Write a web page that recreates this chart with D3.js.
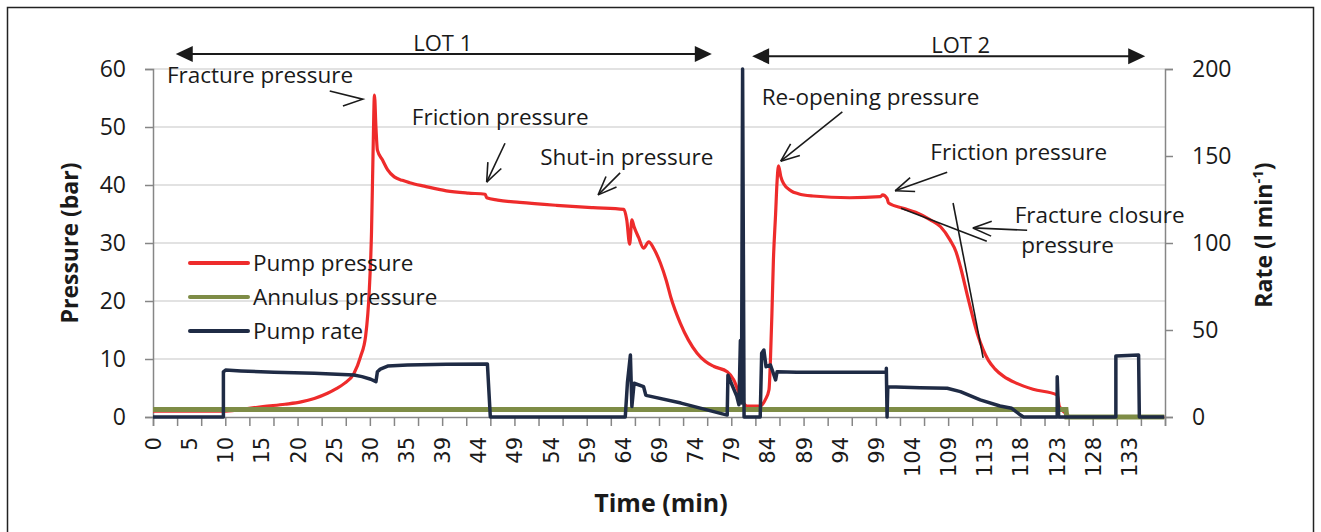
<!DOCTYPE html>
<html>
<head>
<meta charset="utf-8">
<script src="https://cdn.jsdelivr.net/npm/d3@7"></script>
<style>
  body { margin: 0; background: #fff; }
  text { font-family: "Open Sans", sans-serif; fill: #1a1a1a; }
</style>
</head>
<body>
<div id="vis"></div>
<script>
// Frame
const FRAME_WIDTH = 1321;
const FRAME_HEIGHT = 532;
const PLOT = {left: 153, right: 1165, top: 69, bottom: 417};

// Data (time in minutes)
const X_MAX = 138;
const X_TICK_LABELS = ["0","5","10","15","20","25","30","35","39","44","49","54","59","64",
  "69","74","79","84","89","94","99","104","109","113","118","123","128","133"];
const Y_LEFT_TICKS = [0, 10, 20, 30, 40, 50, 60];
const Y_RIGHT_TICKS = [0, 50, 100, 150, 200];

// Pump pressure (bar)
const PUMP_P_TIME = [0,9.6,12,15,18,20.2,22,23.8,25,26.1,27.4,28.3,29.0,29.5,29.8,30.0,30.2,30.4,30.6,31.3,32.0,32.9,34,35,37,40,43,45.3,45.5,47,50,55,60,64.2,64.6,65.0,65.3,65.6,66.2,66.9,67.6,68.3,69.2,70,70.6,71.9,73,74.2,75.3,76.5,78.3,79.2,80.1,80.6,81.0,82.8,83.5,84.0,84.2,84.4,84.6,84.9,85.1,85.3,85.6,86,87,88,90,95,99.2,99.5,100.1,100.3,102.3,104,106,107.4,108.7,109.5,110.1,111.2,112.4,113.2,113.9,114.8,116.0,117.8,120.0,123.3,123.6,124.6,125,137.9];
const PUMP_P_VALS = [1.0,1.0,1.3,1.8,2.2,2.6,3.2,4.1,4.9,5.8,7.5,10.4,14,22,32,45,55.5,50,46,44.3,42.6,41.4,40.8,40.4,39.8,39.0,38.6,38.4,37.8,37.4,37.0,36.5,36.1,35.8,34,29.8,34,32.8,31,29.1,30.2,29,26.5,23.5,20.7,16.2,13.3,11,9.6,8.7,7.8,6.4,3.5,2.3,1.9,1.9,3,4.7,10,17.9,27,35,40.6,43.3,41.5,40.2,39,38.5,38.1,37.8,38,38.3,37.7,36.9,36,35.3,34,32.8,30.5,28.5,25.9,20.2,14.4,11.6,9.8,8.3,7.0,5.8,4.8,3.8,1.8,0.5,0,0];

// Annulus pressure (bar)
const ANNULUS_TIME = [0, 124.5, 124.6, 137.9];
const ANNULUS_VALS = [1.3, 1.3, 0, 0];

// Pump rate (l/min)
const RATE_TIME = [0,9.6,9.6,9.9,12,16.5,22,27.4,28.5,29.7,30.4,30.6,31,32.0,34.7,40,45.6,46.0,64.4,64.7,65.1,65.3,65.6,66.9,67.2,67.4,72,78.3,78.4,79.6,79.9,80.1,80.25,80.4,80.6,82.8,83.0,83.3,83.6,84.2,84.9,85.1,87.8,100.0,100.0,100.1,100.2,104.6,108.3,110.1,112.8,115.5,117.1,118.3,118.7,123.3,123.3,123.5,131.3,131.3,134.4,134.5,137.9];
const RATE_VALS = [0,0,26,27,26.5,25.7,25.2,24.1,23.2,21.7,20.3,26,27.5,29.3,29.9,30.3,30.5,0,0,20,35.6,6,19.4,17.4,12.6,12.3,8,1.1,24,12,7,44,8,200,0,0,36.6,38.5,28.9,29.9,21.3,26,25.7,25.7,28,0,17.4,16.8,16.5,14.6,9.8,6.3,5.0,1.1,0,0,23.2,0,0,35,35.6,0,0];

const SERIES_NAMES = ["Pump pressure", "Annulus pressure", "Pump rate"];
const SERIES_COLORS = ["#ee2b2b", "#7e8c46", "#1f2b45"];

// Annotations (minutes, bar)
const NOTE_TEXTS = ["Fracture pressure", "Friction pressure", "Shut-in pressure",
  "Re-opening pressure", "Friction pressure", "Fracture closure", "pressure"];
const NOTE_POS = [[1.9,57.6],[35.3,50.4],[52.8,43.4],[83.0,53.8],[106.0,44.3],[117.5,33.5],[118.4,28.2]];
const NOTE_ARROWS = [[48.0,47.2,45.5,40.5],[63.7,42.1,60.7,38.3],[94.0,52.6,85.6,44.1],
  [108.3,42.2,101.2,39.0],[119.2,32.2,111.8,32.6]];
const NOTE_CHEVRON = [[24.1,56.2],[28.6,54.8],[25.9,53.6]];
const TANGENTS = [[102.0,36.0,113.7,30.3],[109.1,36.9,113.2,10.2]];
const LOT_LABELS = ["LOT 1", "LOT 2"];
const LOT_SPANS = [[3.1,76.2,62.6],[81.7,135.3,62.2]];

// Svg
const FRAME = d3.select("#vis")
  .append("svg")
    .attr("width", FRAME_WIDTH)
    .attr("height", FRAME_HEIGHT);

// outer border
FRAME.append("rect")
  .attr("x", 7.5).attr("y", 7.5)
  .attr("width", 1306).attr("height", 540)
  .attr("fill", "none").attr("stroke", "#222").attr("stroke-width", 1.5);

// Scales
const X_SCALE = d3.scaleLinear().domain([0, X_MAX]).range([PLOT.left, PLOT.right]);
const Y_LEFT = d3.scaleLinear().domain([0, 60]).range([PLOT.bottom, PLOT.top]);
const Y_RIGHT = d3.scaleLinear().domain([0, 200]).range([PLOT.bottom, PLOT.top]);

// gridlines
FRAME.append("g")
  .selectAll("line")
  .data(Y_LEFT_TICKS.slice(1))
  .enter()
  .append("line")
    .attr("x1", PLOT.left).attr("x2", PLOT.right)
    .attr("y1", d => Y_LEFT(d)).attr("y2", d => Y_LEFT(d))
    .attr("stroke", "#d9d9d9").attr("stroke-width", 1.5);

// left axis
const leftAxis = FRAME.append("g")
  .attr("transform", "translate(" + PLOT.left + ",0)")
  .call(d3.axisLeft(Y_LEFT).tickValues(Y_LEFT_TICKS).tickSize(8).tickPadding(19));
leftAxis.selectAll("text").style("font-family", "'Open Sans'").attr("font-size", "23px").attr("fill", "#1a1a1a");

// right axis
const rightAxis = FRAME.append("g")
  .attr("transform", "translate(" + PLOT.right + ",0)")
  .call(d3.axisRight(Y_RIGHT).tickValues(Y_RIGHT_TICKS).tickSize(8).tickPadding(19));
rightAxis.selectAll("text").style("font-family", "'Open Sans'").attr("font-size", "23px").attr("fill", "#1a1a1a");

// bottom axis: marks
const minorTicks = d3.range(0, 43).map(i => i * X_MAX / 42);
FRAME.append("g")
  .attr("transform", "translate(0," + PLOT.bottom + ")")
  .call(d3.axisBottom(X_SCALE).tickValues(minorTicks).tickSize(9).tickFormat(""));

// bottom axis: labels
const labelAxis = FRAME.append("g")
  .attr("transform", "translate(0," + PLOT.bottom + ")")
  .call(d3.axisBottom(X_SCALE)
    .tickValues(X_TICK_LABELS.map((d, i) => i * X_MAX / 28))
    .tickSize(0)
    .tickFormat((d, i) => X_TICK_LABELS[i]));
labelAxis.select(".domain").remove();
labelAxis.selectAll("text")
  .style("font-family", "'DejaVu Sans'")
  .attr("font-size", "21px")
  .attr("fill", "#1a1a1a")
  .attr("text-anchor", "end")
  .attr("transform", "rotate(-90)")
  .attr("x", -20)
  .attr("y", 0)
  .attr("dy", "0.36em");

FRAME.selectAll(".domain, .tick line").attr("stroke", "#868686").attr("stroke-width", 1.5);

// series
const lineLeft = d3.line().x(d => X_SCALE(d[0])).y(d => Y_LEFT(d[1]));
const lineRight = d3.line().x(d => X_SCALE(d[0])).y(d => Y_RIGHT(d[1]));
const smoothLeft = d3.line().x(d => X_SCALE(d[0])).y(d => Y_LEFT(d[1])).curve(d3.curveMonotoneX);

FRAME.append("path")
  .datum(d3.zip(PUMP_P_TIME, PUMP_P_VALS))
  .attr("d", smoothLeft)
  .attr("fill", "none").attr("stroke", SERIES_COLORS[0]).attr("stroke-width", 3.2)
  .attr("stroke-linejoin", "round");

FRAME.append("path")
  .datum(d3.zip(ANNULUS_TIME, ANNULUS_VALS))
  .attr("d", lineLeft)
  .attr("fill", "none").attr("stroke", SERIES_COLORS[1]).attr("stroke-width", 5);

FRAME.append("path")
  .datum(d3.zip(RATE_TIME, RATE_VALS))
  .attr("d", lineRight)
  .attr("fill", "none").attr("stroke", SERIES_COLORS[2]).attr("stroke-width", 3.5)
  .attr("stroke-linejoin", "round");

// legend
const legend = FRAME.append("g")
  .selectAll("g")
  .data(SERIES_NAMES)
  .enter()
  .append("g")
    .attr("transform", (d, i) => "translate(190," + (263 + i * 34) + ")");
legend.append("line")
  .attr("x1", 0).attr("x2", 58)
  .attr("stroke", (d, i) => SERIES_COLORS[i])
  .attr("stroke-width", 4).attr("stroke-linecap", "round");
legend.append("text")
  .attr("x", 63).attr("dy", "0.35em")
  .attr("font-size", "22.5px")
  .text(d => d);

// axis titles
FRAME.append("text")
  .attr("transform", "translate(78,243) rotate(-90)")
  .attr("text-anchor", "middle")
  .attr("font-size", "23px").attr("font-weight", "bold")
  .text("Pressure (bar)");

FRAME.append("text")
  .attr("x", 661).attr("y", 512)
  .attr("text-anchor", "middle")
  .attr("font-size", "25px").attr("font-weight", "bold")
  .text("Time (min)");

const rateTitle = FRAME.append("text")
  .attr("transform", "translate(1272,235) rotate(-90)")
  .attr("text-anchor", "middle")
  .attr("font-size", "23px").attr("font-weight", "bold");
rateTitle.append("tspan").text("Rate (l min");
rateTitle.append("tspan").attr("font-size", "15px").attr("dy", "-9").text("-1");
rateTitle.append("tspan").attr("dy", "9").text(")");

// annotations
FRAME.append("g")
  .selectAll("text")
  .data(NOTE_TEXTS)
  .enter()
  .append("text")
    .attr("x", (d, i) => X_SCALE(NOTE_POS[i][0]))
    .attr("y", (d, i) => Y_LEFT(NOTE_POS[i][1]))
    .attr("font-size", "22.5px")
    .text(d => d);

function drawArrow(g, x1, y1, x2, y2, len, ang) {
  const a = Math.atan2(y2 - y1, x2 - x1);
  g.append("line")
    .attr("x1", x1).attr("y1", y1).attr("x2", x2).attr("y2", y2);
  [-ang, ang].forEach(s => {
    g.append("line")
      .attr("x1", x2).attr("y1", y2)
      .attr("x2", x2 - len * Math.cos(a + s))
      .attr("y2", y2 - len * Math.sin(a + s));
  });
}

const notes = FRAME.append("g").attr("stroke", "#1a1a1a").attr("stroke-width", 1.6);
NOTE_ARROWS.forEach(d => {
  drawArrow(notes, X_SCALE(d[0]), Y_LEFT(d[1]), X_SCALE(d[2]), Y_LEFT(d[3]), 20, 0.38);
});
notes.append("polyline")
  .attr("points", NOTE_CHEVRON.map(d => X_SCALE(d[0]) + "," + Y_LEFT(d[1])).join(" "))
  .attr("fill", "none");
TANGENTS.forEach(d => {
  notes.append("line")
    .attr("x1", X_SCALE(d[0])).attr("y1", Y_LEFT(d[1]))
    .attr("x2", X_SCALE(d[2])).attr("y2", Y_LEFT(d[3]));
});

// LOT spans
LOT_SPANS.forEach((d, i) => {
  const x1 = X_SCALE(d[0]), x2 = X_SCALE(d[1]), y = Y_LEFT(d[2]);
  FRAME.append("line")
    .attr("x1", x1 + 10).attr("x2", x2 - 10)
    .attr("y1", y).attr("y2", y)
    .attr("stroke", "#1a1a1a").attr("stroke-width", 2);
  FRAME.append("path")
    .attr("d", "M" + x1 + "," + y + "L" + (x1 + 17) + "," + (y - 8) + "L" + (x1 + 17) + "," + (y + 8) + "Z")
    .attr("fill", "#1a1a1a");
  FRAME.append("path")
    .attr("d", "M" + x2 + "," + y + "L" + (x2 - 17) + "," + (y - 8) + "L" + (x2 - 17) + "," + (y + 8) + "Z")
    .attr("fill", "#1a1a1a");
  FRAME.append("text")
    .attr("x", (x1 + x2) / 2 + (i == 0 ? -1 : 12))
    .attr("y", y - 3)
    .attr("text-anchor", "middle")
    .attr("font-size", "22px")
    .text(LOT_LABELS[i]);
});
</script>
</body>
</html>
